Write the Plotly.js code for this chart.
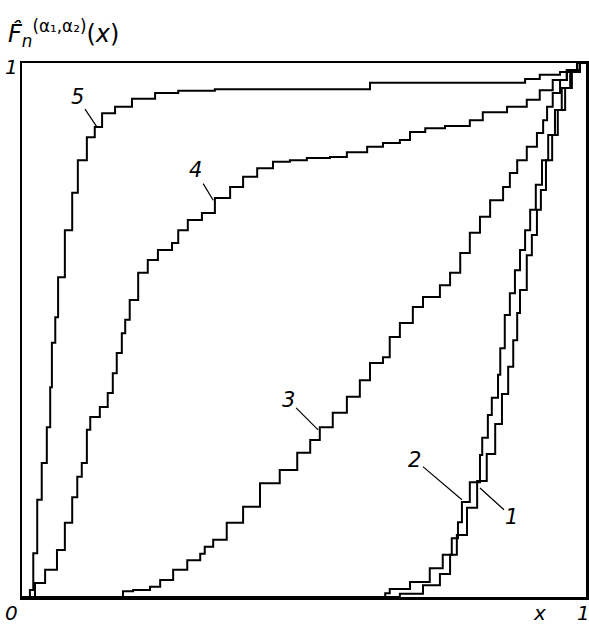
<!DOCTYPE html>
<html>
<head>
<meta charset="utf-8">
<script src="https://cdn.plot.ly/plotly-3.0.1.min.js"></script>
<style>
  html, body { margin: 0; padding: 0; background: #fff; }
  #chart { width: 589px; height: 624px; }
</style>
</head>
<body>
<div id="chart"></div>
<script>
const curve1X = [0, 0.652, 0.670, 0.711, 0.741, 0.759, 0.771, 0.789, 0.807, 0.824, 0.839, 0.851, 0.862, 0.871, 0.878, 0.883, 0.895, 0.904, 0.913, 0.920, 0.929, 0.940, 0.950, 0.963, 0.975, 0.989, 1];
const curve1Y = [0, 0, 0.006, 0.022, 0.043, 0.079, 0.116, 0.167, 0.217, 0.268, 0.324, 0.380, 0.431, 0.481, 0.532, 0.575, 0.640, 0.678, 0.725, 0.762, 0.818, 0.865, 0.912, 0.953, 0.983, 1, 1];

const curve2X = [0, 0.617, 0.644, 0.652, 0.688, 0.723, 0.746, 0.762, 0.773, 0.780, 0.794, 0.812, 0.816, 0.826, 0.833, 0.844, 0.848, 0.856, 0.865, 0.874, 0.883, 0.892, 0.901, 0.911, 0.922, 0.933, 0.945, 0.957, 0.972, 0.989, 1];
const curve2Y = [0, 0, 0.007, 0.015, 0.028, 0.054, 0.079, 0.110, 0.140, 0.178, 0.215, 0.266, 0.298, 0.341, 0.373, 0.416, 0.466, 0.528, 0.569, 0.612, 0.650, 0.687, 0.725, 0.772, 0.818, 0.865, 0.912, 0.953, 0.983, 1, 1];

const curve3X = [0, 0.179, 0.197, 0.227, 0.245, 0.268, 0.293, 0.316, 0.324, 0.339, 0.363, 0.392, 0.422, 0.457, 0.488, 0.511, 0.528, 0.551, 0.576, 0.599, 0.617, 0.640, 0.652, 0.670, 0.693, 0.711, 0.741, 0.759, 0.777, 0.794, 0.812, 0.830, 0.853, 0.865, 0.878, 0.895, 0.913, 0.924, 0.931, 0.941, 0.954, 0.966, 0.984, 1];
const curve3Y = [0, 0.011, 0.013, 0.019, 0.032, 0.051, 0.069, 0.081, 0.094, 0.107, 0.139, 0.169, 0.213, 0.238, 0.270, 0.294, 0.318, 0.345, 0.375, 0.406, 0.438, 0.449, 0.487, 0.513, 0.543, 0.562, 0.584, 0.607, 0.644, 0.682, 0.712, 0.743, 0.768, 0.794, 0.818, 0.843, 0.869, 0.893, 0.918, 0.944, 0.968, 0.987, 1, 1];

const curve4X = [0, 0.023, 0.041, 0.062, 0.076, 0.089, 0.098, 0.106, 0.115, 0.121, 0.138, 0.152, 0.161, 0.168, 0.177, 0.183, 0.191, 0.206, 0.223, 0.241, 0.266, 0.277, 0.294, 0.319, 0.342, 0.369, 0.392, 0.417, 0.445, 0.475, 0.505, 0.546, 0.576, 0.612, 0.640, 0.670, 0.688, 0.715, 0.750, 0.794, 0.817, 0.860, 0.895, 0.918, 0.941, 0.966, 0.989, 1];
const curve4Y = [0, 0.026, 0.051, 0.088, 0.139, 0.187, 0.225, 0.251, 0.313, 0.337, 0.356, 0.382, 0.419, 0.457, 0.494, 0.519, 0.556, 0.607, 0.631, 0.650, 0.663, 0.687, 0.706, 0.719, 0.747, 0.768, 0.787, 0.803, 0.815, 0.818, 0.822, 0.824, 0.833, 0.843, 0.850, 0.856, 0.871, 0.878, 0.882, 0.893, 0.908, 0.918, 0.931, 0.949, 0.968, 0.987, 1, 1];

const curve5X = [0, 0.014, 0.020, 0.027, 0.035, 0.044, 0.050, 0.053, 0.059, 0.064, 0.076, 0.089, 0.099, 0.115, 0.129, 0.142, 0.165, 0.195, 0.236, 0.277, 0.342, 0.617, 0.860, 0.892, 0.918, 0.954, 0.984, 1];
const curve5Y = [0, 0.013, 0.082, 0.182, 0.251, 0.318, 0.393, 0.476, 0.524, 0.599, 0.687, 0.757, 0.818, 0.861, 0.880, 0.906, 0.918, 0.933, 0.944, 0.948, 0.951, 0.963, 0.963, 0.970, 0.978, 0.983, 1, 1];

// curve labels: name, point on the curve, text offset in px
const labelNames = ['1', '2', '3', '4', '5'];
const labelX = [0.812, 0.780, 0.525, 0.339, 0.133];
const labelY = [0.204, 0.182, 0.313, 0.743, 0.880];
const labelAx = [32, -47, -30, -18, -20];
const labelAy = [29, -40, -30, -30, -30];

// axis marks along the bottom and the left edge
const xMarkText = ['0', 'x', '1'];
const xMarkPos = [0, 0.918, 1];
const xMarkShift = [-11, 0, -3];
const yMarkText = ['1'];
const yMarkPos = [1];

const curves = [
  [curve1X, curve1Y], [curve2X, curve2Y], [curve3X, curve3Y],
  [curve4X, curve4Y], [curve5X, curve5Y],
];

const traces = curves.map(([x, y]) => ({
  x, y,
  mode: 'lines',
  line: { color: '#000', width: 2, shape: 'hv' },
  hoverinfo: 'skip',
}));

const labelFont = { family: 'DejaVu Sans', size: 21, color: '#000' };
const markFont = { family: 'DejaVu Sans', size: 20, color: '#000' };

const annotations = labelNames.map((name, i) => ({
  x: labelX[i], y: labelY[i],
  text: '<i>' + name + '</i>',
  showarrow: true, arrowhead: 0, arrowwidth: 1.2, arrowcolor: '#000',
  ax: labelAx[i], ay: labelAy[i],
  font: labelFont,
}));

xMarkText.forEach((t, i) => annotations.push({
  x: xMarkPos[i], y: 0, xref: 'x', yref: 'y',
  yanchor: 'top', yshift: -2, xshift: xMarkShift[i],
  text: '<i>' + t + '</i>', showarrow: false, font: markFont,
}));

yMarkText.forEach((t, i) => annotations.push({
  x: 0, y: yMarkPos[i], xref: 'x', yref: 'y',
  xanchor: 'right', xshift: -2, yshift: -4,
  text: '<i>' + t + '</i>', showarrow: false, font: markFont,
}));

// y-axis title
annotations.push({
  x: 0, y: 1, xref: 'paper', yref: 'paper',
  xanchor: 'left', yanchor: 'bottom',
  xshift: -16, yshift: 10,
  text: '<i>F̂<sub>n</sub></i><sup>(α₁,α₂)</sup>(<i>x</i>)',
  showarrow: false,
  font: { family: 'DejaVu Sans', size: 24, color: '#000' },
});

const axisStyle = {
  range: [0, 1],
  showgrid: false,
  zeroline: false,
  showline: true,
  mirror: true,
  linecolor: '#000',
  linewidth: 2.5,
  showticklabels: false,
  ticks: '',
};

const layout = {
  width: 589,
  height: 624,
  margin: { l: 22, r: 3, t: 63, b: 27 },
  paper_bgcolor: '#fff',
  plot_bgcolor: '#fff',
  showlegend: false,
  hovermode: false,
  font: labelFont,
  xaxis: axisStyle,
  yaxis: { ...axisStyle },
  annotations,
};

Plotly.newPlot('chart', traces, layout, { displayModeBar: false, staticPlot: true });
</script>
</body>
</html>
